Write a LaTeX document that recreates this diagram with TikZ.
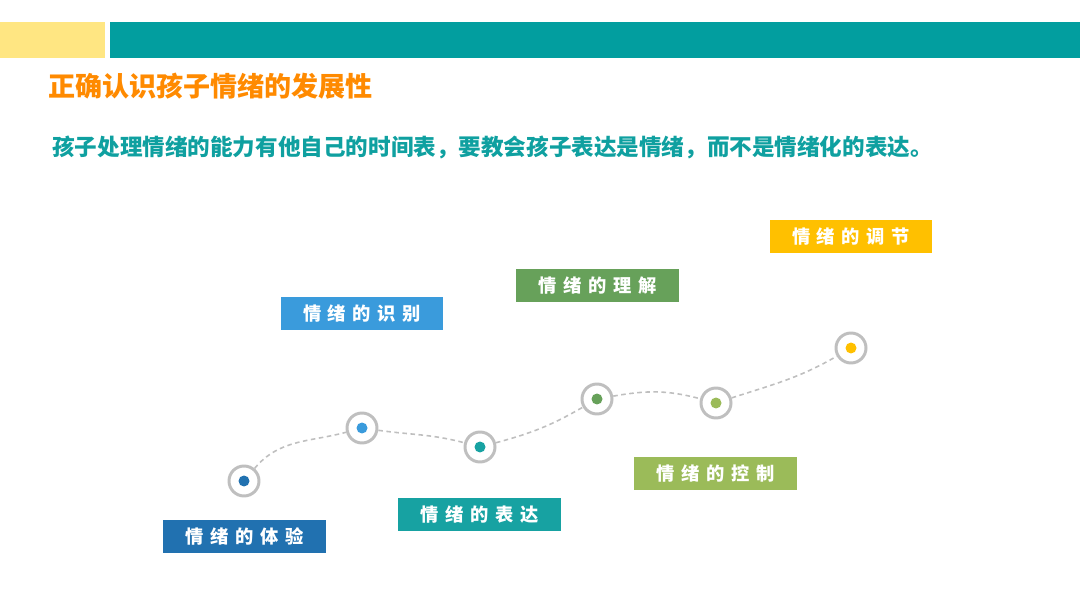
\documentclass[tikz,border=0pt]{standalone}
\usepackage{fontspec}
\usetikzlibrary{positioning}
\setmainfont{Noto Sans CJK SC}
\newfontfamily\tagfont[LetterSpace=36]{Noto Sans CJK SC}
\definecolor{barteal}{HTML}{029E9F}
\definecolor{baryellow}{HTML}{FFE682}
\definecolor{titleorange}{HTML}{FF8A00}
\definecolor{subteal}{HTML}{0FA0A0}
\definecolor{ringgray}{HTML}{BFBFBF}
\definecolor{cexp}{HTML}{2171B0}
\definecolor{cid}{HTML}{3A9BDC}
\definecolor{cexpr}{HTML}{17A2A2}
\definecolor{cund}{HTML}{67A15A}
\definecolor{cctl}{HTML}{9BBB59}
\definecolor{creg}{HTML}{FFC000}
\tikzset{
  tagbox/.style={fill=#1,text=white,minimum width=3.26cm,minimum height=0.66cm,inner sep=0pt,font=\tagfont\bfseries\fontsize{10.4}{12}\selectfont},
  ring/.style={circle,draw=ringgray,line width=1.7pt,minimum size=0.6cm,inner sep=0pt},
  dot/.style={circle,fill=#1,minimum size=0.22cm,inner sep=0pt},
  trail/.style={ringgray,line width=0.9pt,dash pattern=on 2.6pt off 2pt},
}
\begin{document}
\begin{tikzpicture}[x=0.02cm,y=0.02cm]
\useasboundingbox (0,0) rectangle (1080,-608);
% header bars
\fill[baryellow] (0,-22) rectangle (105,-58);
\fill[barteal] (110,-22) rectangle (1080,-58);
\node[anchor=west,inner sep=0pt,text=titleorange,font=\bfseries\fontsize{15.4}{18}\selectfont] (title) at (48,-86) {正确认识孩子情绪的发展性};
\node[anchor=west,inner sep=0pt,text=subteal,font=\bfseries\fontsize{12.85}{15}\selectfont] (sub) at (52,-147) {孩子处理情绪的能力有他自己的时间表，要教会孩子表达是情绪，而不是情绪化的表达。};
% stages
\node[ring] (r1) at (244,-481) {};
\node[ring] (r2) at (362,-428) {};
\node[ring] (r3) at (480,-447) {};
\node[ring] (r4) at (597,-399) {};
\node[ring] (r5) at (716,-403) {};
\node[ring] (r6) at (851,-348) {};
\node[dot=cexp] at (r1) {};
\node[dot=cid] at (r2) {};
\node[dot=cexpr] at (r3) {};
\node[dot=cund] at (r4) {};
\node[dot=cctl] at (r5) {};
\node[dot=creg] at (r6) {};
\draw[trail] (r1) to[out=50,in=195] (r2);
\draw[trail] (r2) to[out=-8,in=165] (r3);
\draw[trail] (r3) to[out=15,in=210] (r4);
\draw[trail] (r4) to[out=10,in=165] (r5);
\draw[trail] (r5) to[out=18,in=210] (r6);
% labels
\node[tagbox=cexp] (t1) at (244.5,-536.5) {情绪的体验};
\node[tagbox=cid] (t2) at (362,-313.5) {情绪的识别};
\node[tagbox=cexpr] (t3) at (479.5,-514.5) {情绪的表达};
\node[tagbox=cund] (t4) at (597.5,-285.5) {情绪的理解};
\node[tagbox=cctl] (t5) at (715.5,-473.5) {情绪的控制};
\node[tagbox=creg] (t6) at (851,-236.5) {情绪的调节};
\end{tikzpicture}
\end{document}
